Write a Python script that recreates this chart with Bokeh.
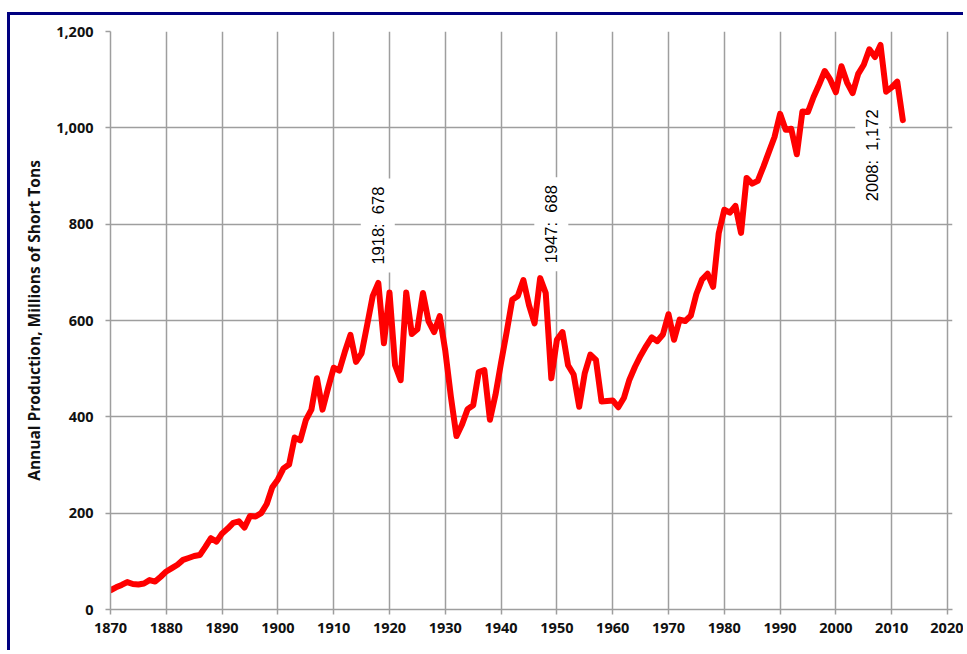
import math
from bokeh.plotting import figure
from bokeh.models import (FixedTicker, NumeralTickFormatter, Label, Range1d)
from bokeh.embed import file_html
from bokeh.resources import INLINE

# ---- data (US annual coal production, millions of short tons) ----
years = list(range(1870, 2013))
production = [
    40, 46, 51, 57, 53, 52, 54, 61, 58, 68,            # 1870-1879
    79, 86, 93, 103, 107, 111, 113, 130, 148, 141,     # 1880-1889
    158, 168, 180, 183, 170, 194, 193, 200, 219, 254,  # 1890-1899
    270, 293, 301, 357, 351, 393, 415, 480, 415, 460,  # 1900-1909
    502, 496, 535, 570, 514, 532, 591, 651, 678, 553,  # 1910-1919
    658, 507, 476, 658, 572, 582, 657, 598, 576, 609,  # 1920-1929
    537, 442, 360, 384, 416, 424, 493, 497, 394, 446,  # 1930-1939
    513, 576, 643, 651, 684, 632, 594, 688, 657, 480,  # 1940-1949
    560, 576, 507, 488, 421, 491, 529, 518, 432, 433,  # 1950-1959
    434, 420, 439, 477, 504, 527, 547, 565, 557, 571,  # 1960-1969
    613, 560, 602, 599, 610, 655, 685, 697, 670, 781,  # 1970-1979
    830, 824, 838, 782, 896, 884, 890, 919, 950, 981,  # 1980-1989
    1029, 996, 998, 945, 1034, 1033, 1064, 1090, 1118, 1100,  # 1990-1999
    1074, 1128, 1094, 1072, 1112, 1131, 1163, 1147, 1172, 1075,  # 2000-2009
    1084, 1096, 1016,                                  # 2010-2012
]
x_ticks = [1870, 1880, 1890, 1900, 1910, 1920, 1930, 1940, 1950, 1960,
           1970, 1980, 1990, 2000, 2010, 2020]
y_ticks = [0, 200, 400, 600, 800, 1000, 1200]
peak_texts = ["1918:\u00a0\u00a0678", "1947:\u00a0\u00a0688", "2008:\u00a0\u00a01,172"]

GRID = "#9e9e9e"

p = figure(width=956, height=638, output_backend="svg", toolbar_location=None,
           x_range=Range1d(1870, 2020.9), y_range=Range1d(0, 1200),
           min_border_left=100, min_border_right=14, min_border_top=16,
           min_border_bottom=44, background_fill_color="white",
           border_fill_color="white")
p.outline_line_color = None
p.styles = {"margin-top": "12px", "margin-left": "7px",
            "border-top": "3px solid #000080",
            "border-left": "3px solid #000080"}

p.line(years, production, line_color="#ff0000", line_width=6,
       line_join="round", line_cap="round")

for ax in (p.xaxis[0], p.yaxis[0]):
    ax.axis_line_color = GRID
    ax.axis_line_width = 1.5
    ax.major_tick_line_color = GRID
    ax.major_tick_line_width = 1.5
    ax.major_tick_out = 5
    ax.major_tick_in = 0
    ax.minor_tick_line_color = None
    ax.major_label_text_font = "Open Sans"
    ax.major_label_text_font_style = "bold"
    ax.major_label_text_font_size = "14.5px"
    ax.major_label_text_color = "#111111"

p.xaxis[0].ticker = FixedTicker(ticks=x_ticks)
p.xaxis[0].major_label_standoff = 8
p.yaxis[0].ticker = FixedTicker(ticks=y_ticks)
p.yaxis[0].formatter = NumeralTickFormatter(format="0,0")
p.yaxis[0].major_label_standoff = 12
p.yaxis[0].axis_label = "Annual Production, Millions of Short Tons"
p.yaxis[0].axis_label_text_font = "Open Sans"
p.yaxis[0].axis_label_text_font_style = "bold"
p.yaxis[0].axis_label_text_font_size = "15.5px"
p.yaxis[0].axis_label_text_color = "#111111"
p.yaxis[0].axis_label_standoff = 8

p.xgrid.ticker = FixedTicker(ticks=x_ticks)
p.ygrid.ticker = FixedTicker(ticks=y_ticks)
for g in (p.xgrid[0], p.ygrid[0]):
    g.grid_line_color = GRID
    g.grid_line_width = 1.5

# annotation placement (label centre, data coords)
label_pos = [(1917.9, 797), (1949.0, 800), (2006.5, 943)]
for (lx, ly), txt in zip(label_pos, peak_texts):
    p.add_layout(Label(x=lx, y=ly, text=txt, angle=math.pi / 2,
                       anchor="center", text_align="center",
                       text_baseline="middle",
                       text_font="Liberation Sans", text_font_size="16.5px",
                       text_color="#000000",
                       background_fill_color="white", padding=(8, 8)))

open("out.html", "w").write(file_html(p, INLINE))
